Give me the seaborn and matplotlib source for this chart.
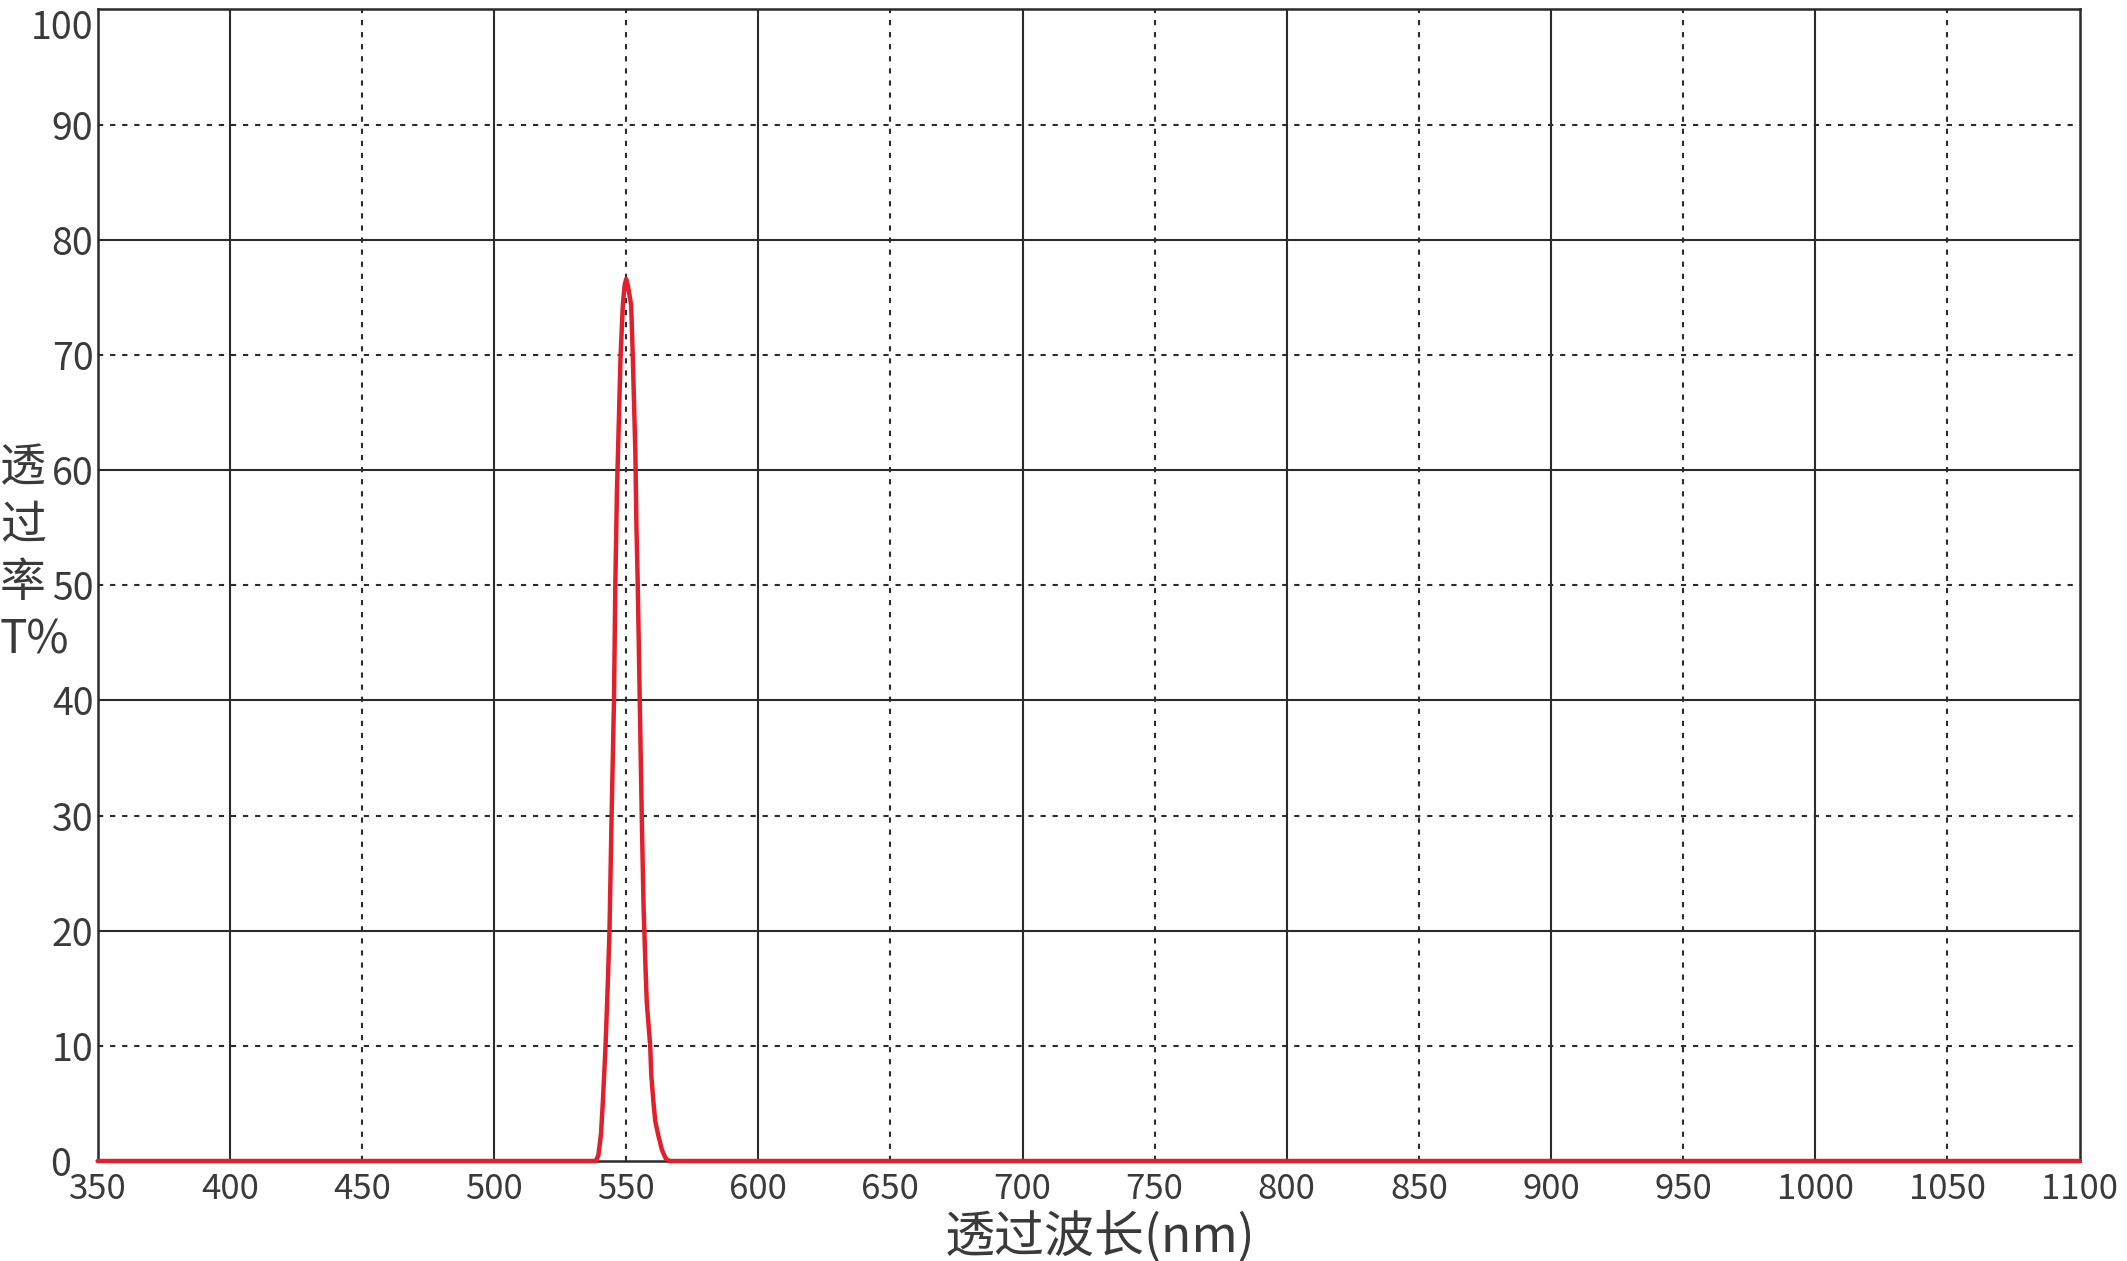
import matplotlib
matplotlib.use("Agg")
import matplotlib.pyplot as plt
import matplotlib.transforms as mtransforms
import seaborn as sns
import pandas as pd

# transmission curve
wavelength = [350, 538.5, 539.5, 540.5, 541.2, 542.2, 543.0, 543.7, 544.5, 545.4, 545.9,
              546.5, 546.9, 547.9, 548.75, 549.4, 550.0, 550.7, 551.9, 552.5, 553.5,
              553.9, 554.4, 555.0, 555.3, 555.9, 556.6, 557.3, 557.8, 559.1, 559.5,
              560.3, 561.0, 562.0, 563.5, 565.0, 566.5, 1100]
transmission = [0, 0, 0.5, 2.4, 5.2, 10.0, 15.0, 20.0, 30.0, 40.0, 50.0,
                58.0, 61.4, 70.0, 74.3, 76.0, 76.6, 76.0, 74.3, 70.0, 61.4,
                55.0, 50.0, 42.0, 38.0, 30.0, 22.0, 17.0, 13.8, 10.0, 7.5,
                5.2, 3.5, 2.4, 1.0, 0.2, 0, 0]

x_ticks = list(range(350, 1101, 50))
y_ticks = list(range(0, 101, 10))
y_title = ["透", "过", "率", "T%"]

df = pd.DataFrame({"wl": wavelength, "T": transmission})

sns.set_theme(style="white")
plt.rcParams["font.family"] = ["Noto Sans CJK SC", "DejaVu Sans"]
plt.rcParams["font.weight"] = "light"

fig = plt.figure(figsize=(21.27, 12.61), dpi=100)
ax = fig.add_axes([0.0459, 0.0793, 0.9318, 0.9132])

grid_color = "#2b2b2b"
dots = (0, (2.5, 3.3))
for xv in x_ticks[1:-1]:
    if xv % 100 == 0:
        ax.axvline(xv, color=grid_color, lw=1.5, zorder=1)
    else:
        ax.axvline(xv, color=grid_color, lw=1.5, ls=dots, zorder=1)
for yv in y_ticks[1:-1]:
    if yv % 20 == 0:
        ax.axhline(yv, color=grid_color, lw=1.5, zorder=1)
    else:
        ax.axhline(yv, color=grid_color, lw=1.5, ls=dots, zorder=1)

sns.lineplot(data=df, x="wl", y="T", color="#e0202a", lw=3.2, ax=ax,
             clip_on=False, zorder=5)

ax.set_xlim(350, 1100)
ax.set_ylim(0, 100)
ax.set_xticks(x_ticks)
ax.set_yticks(y_ticks)
ax.set_xticklabels([str(v) for v in x_ticks], fontsize=25, color="#3a3a3a")
ax.set_yticklabels([str(v) for v in y_ticks], fontsize=27, color="#3a3a3a")
ax.tick_params(axis="both", length=0)
ax.tick_params(axis="x", pad=8)
ax.tick_params(axis="y", pad=3)
ax.set_xlabel("")
ax.set_ylabel("")

# top label sits just under the edge, the "0" is pushed left of the column
ylabels = ax.get_yticklabels()
ylabels[-1].set_va("top")
ylabels[0].set_transform(ylabels[0].get_transform() +
                         mtransforms.ScaledTranslation(-0.22, 0, fig.dpi_scale_trans))

for s in ax.spines.values():
    s.set_color(grid_color)
    s.set_linewidth(1.8)
    s.set_visible(True)

# vertical stacked y title, one line per text
for i, part in enumerate(y_title):
    fig.text(0.0, 0.629 - i * 0.0457, part, fontsize=33, color="#3a3a3a",
             ha="left", va="center")
fig.text(0.517, -0.002, "透过波长(nm)", fontsize=36, color="#3a3a3a",
         ha="center", va="bottom")

fig.savefig("out.png", dpi=100)
plt.close(fig)
